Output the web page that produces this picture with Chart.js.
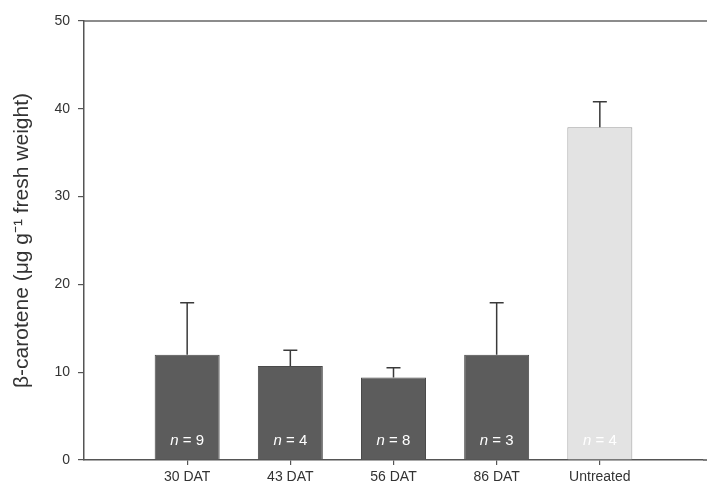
<!DOCTYPE html>
<html lang="en">
<head>
    <meta charset="UTF-8">
    <title>beta-carotene</title>
    <script src="https://cdn.jsdelivr.net/npm/chart.js"></script>
    <style>
        html, body { margin: 0; padding: 0; background: #fff; }
        #wrap { width: 707px; height: 495px; }
    </style>
</head>
<body>
    <div id="wrap"><canvas id="myChart"></canvas></div>

    <script type="text/javascript">
        // values
        const categories = ['30 DAT', '43 DAT', '56 DAT', '86 DAT', 'Untreated'];
        const means = [12.0, 10.7, 9.4, 12.0, 37.9];
        const upper = [17.9, 12.5, 10.5, 17.9, 40.8];
        const nLabels = ['9', '4', '8', '3', '4'];
        const yTicks = [0, 10, 20, 30, 40, 50];

        // one empty slot on each side, as in the original plot
        const labels = [''].concat(categories, ['']);
        const barData = [null].concat(means, [null]);
        const errData = [null].concat(upper, [null]);
        const nData = [null].concat(nLabels, [null]);

        const fillColors = labels.map((l, i) => i === 5 ? '#e3e3e3' : '#5c5c5c');
        const borderColors = labels.map((l, i) => i === 5 ? '#9a9a9a' : '#4a4a4a');

        const FONT = '"Liberation Sans", Arial, sans-serif';

        const extras = {
            id: 'extras',
            afterDatasetsDraw(chart) {
                const c = chart.ctx;
                const x = chart.scales.x, y = chart.scales.y;
                const area = chart.chartArea;
                c.save();
                // top frame line
                c.strokeStyle = '#666';
                c.lineWidth = 1.5;
                c.beginPath();
                c.moveTo(area.left, area.top);
                c.lineTo(chart.width, area.top);
                c.stroke();

                // upper error bars
                c.strokeStyle = '#3a3a3a';
                c.lineWidth = 1.5;
                errData.forEach((v, i) => {
                    if (v == null) return;
                    const px = x.getPixelForValue(i);
                    const top = y.getPixelForValue(v);
                    const base = y.getPixelForValue(barData[i]);
                    c.beginPath();
                    c.moveTo(px, base);
                    c.lineTo(px, top);
                    c.moveTo(px - 7, top);
                    c.lineTo(px + 7, top);
                    c.stroke();
                });

                // n labels inside bars
                c.fillStyle = '#ffffff';
                c.textBaseline = 'middle';
                c.textAlign = 'left';
                const it = 'italic 15px ' + FONT, up = '15px ' + FONT;
                nData.forEach((t, i) => {
                    if (t == null) return;
                    const px = x.getPixelForValue(i);
                    const py = y.getPixelForValue(0) - 19;
                    c.font = it;
                    const w1 = c.measureText('n').width;
                    c.font = up;
                    const rest = ' = ' + t;
                    const w2 = c.measureText(rest).width;
                    const start = px - (w1 + w2) / 2;
                    c.font = it;
                    c.fillText('n', start, py);
                    c.font = up;
                    c.fillText(rest, start + w1, py);
                });

                // x axis line runs to the right edge
                c.strokeStyle = '#555';
                c.lineWidth = 1.5;
                c.beginPath();
                c.moveTo(area.right, area.bottom);
                c.lineTo(chart.width, area.bottom);
                c.stroke();
                c.restore();
            }
        };

        const ctx = document.getElementById('myChart');

        let myChart = new Chart(ctx, {
            type: 'bar',
            data: {
                labels: labels,
                datasets: [{
                    data: barData,
                    backgroundColor: fillColors,
                    borderColor: borderColors,
                    borderWidth: 1,
                    categoryPercentage: 1,
                    barPercentage: 0.63
                }]
            },
            options: {
                responsive: true,
                maintainAspectRatio: false,
                animation: false,
                layout: { padding: { top: 21, right: -3, bottom: 0, left: 0 } },
                plugins: {
                    legend: { display: false },
                    tooltip: { enabled: false }
                },
                scales: {
                    x: {
                        offset: false,
                        grid: {
                            offset: false,
                            drawOnChartArea: false,
                            tickLength: 5,
                            color: (c) => (c.index === 0 || c.index === labels.length - 1) ? 'rgba(0,0,0,0)' : '#555',
                            lineWidth: 1.2
                        },
                        border: { color: '#555', width: 1.5 },
                        ticks: {
                            color: '#333',
                            font: { family: FONT, size: 14 },
                            maxRotation: 0,
                            autoSkip: false,
                            padding: 4
                        },
                        afterFit(scale) { scale.height = 35; }
                    },
                    y: {
                        min: 0,
                        max: 50,
                        afterBuildTicks(scale) { scale.ticks = yTicks.map(v => ({ value: v })); },
                        grid: {
                            drawOnChartArea: false,
                            tickLength: 6,
                            color: '#555',
                            lineWidth: 1.2
                        },
                        border: { color: '#555', width: 1.5 },
                        ticks: {
                            color: '#333',
                            font: { family: FONT, size: 14 },
                            padding: 8
                        },
                        title: {
                            display: true,
                            text: 'β-carotene (μg g⁻¹ fresh weight)',
                            color: '#333',
                            font: { family: FONT, size: 21 },
                            padding: { top: 10, bottom: 0 }
                        },
                        afterFit(scale) { scale.width = 84; }
                    }
                }
            },
            plugins: [extras]
        });
    </script>
</body>
</html>
